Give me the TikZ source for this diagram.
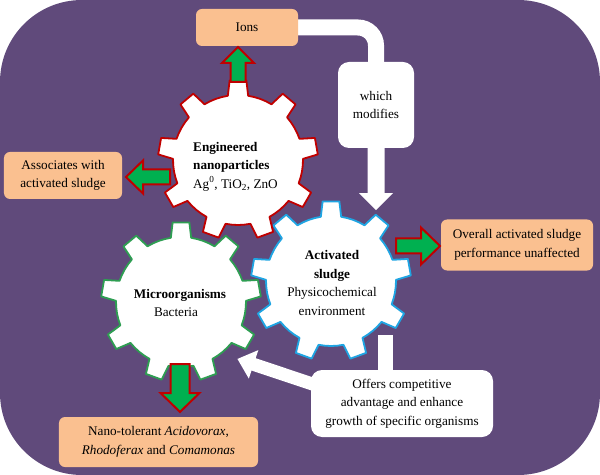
\documentclass[tikz,border=0pt]{standalone}
\usepackage{fontspec}
\setmainfont{Liberation Serif}
\usetikzlibrary{calc}
\definecolor{bgpurple}{HTML}{604A7B}
\definecolor{peach}{HTML}{FAC090}
\definecolor{arrgreen}{HTML}{00B050}
\definecolor{darkred}{HTML}{C00000}
\definecolor{gearblue}{HTML}{1FA5E3}
\definecolor{geargreen}{HTML}{2E9E52}
\pgfdeclarelayer{bg}
\pgfdeclarelayer{conn}
\pgfsetlayers{bg,conn,main}
\tikzset{
  every node/.style={font=\fontsize{13.2bp}{18.5bp}\selectfont},
  peachbox/.style={fill=peach, rounded corners=6bp, inner sep=0pt, align=center},
  whitebox/.style={fill=white, rounded corners=11bp, inner sep=0pt, align=center},
  band/.style={draw=white, line width=16bp},
  greenarr/.style={fill=arrgreen, draw=darkred, line width=2bp, line join=miter},
  whitearr/.style={fill=white},
  gearline/.style={fill=white, line width=1.8bp, line join=round},
  pics/blockarrow/.style n args={4}{code={
    \path[pic actions] (0,-#2) -- ({#1-#4},-#2) -- ({#1-#4},-#3) -- (#1,0) -- ({#1-#4},#3) -- ({#1-#4},#2) -- (0,#2) -- cycle;
  }},
  pics/gear/.style={code={
    \path[pic actions] (21:65) \foreach \a in {30,70,...,350}{ -- ({\a-9}:65) -- ({\a-6}:80) -- ({\a+6}:80) -- ({\a+9}:65) -- ({\a+14.5}:65) -- ({\a+20}:65) -- ({\a+25.5}:65) -- ({\a+31}:65)} -- cycle;
  }},
}
\begin{document}
\begin{tikzpicture}[x=1bp,y=-1bp]
\useasboundingbox (0,0) rectangle (600,475);
\begin{pgfonlayer}{bg}
\fill[white] (0,0) rectangle (600,475);
\fill[bgpurple, rounded corners=82bp] (0,0) rectangle (600,475);
\end{pgfonlayer}

% gears
\coordinate (redc) at (238,160);
\coordinate (bluec) at (331,281);
\coordinate (greenc) at (181,302);
\pic[gearline, draw=geargreen] at (greenc) {gear};
\pic[gearline, draw=gearblue] at (bluec) {gear};
\pic[gearline, draw=darkred] at (redc) {gear};

\node[anchor=west, align=left, inner sep=0pt] (engtext) at (193,166.5) {\textbf{Engineered}\\\textbf{nanoparticles}\\Ag\textsuperscript{0}, TiO\textsubscript{2}, ZnO};
\node[align=center, inner sep=0pt] (astext) at (332,283) {\textbf{Activated}\\\textbf{sludge}\\Physicochemical\\environment};
\node[align=center, inner sep=0pt] (mictext) at (180,303) {\textbf{Microorganisms}\\Bacteria\hspace*{8bp}};

% boxes
\node[peachbox, minimum width=102bp, minimum height=37bp] (ions) at (247,27.5) {Ions};
\node[peachbox, minimum width=118bp, minimum height=47bp] (assoc) at (63,175.5) {Associates with\\activated sludge};
\node[peachbox, minimum width=152bp, minimum height=51bp] (overall) at (517,245) {Overall activated sludge\\performance unaffected};
\node[peachbox, minimum width=199bp, minimum height=50bp] (nano) at (158.5,442) {Nano-tolerant \textit{Acidovorax},\\\textit{Rhodoferax} and \textit{Comamonas}};
\node[whitebox, minimum width=76bp, minimum height=86bp] (mod) at (376,105) {which\\modifies};
\node[whitebox, minimum width=182bp, minimum height=67bp] (offers) at (402,403.5) {Offers competitive\\advantage and enhance\\growth of specific organisms};

% white connectors
\begin{pgfonlayer}{conn}
\draw[band, rounded corners=18bp] (ions.east) -| (mod.north);
\pic[whitearr, rotate=-90] at (mod.south) {blockarrow={62}{8.5}{17}{17}};
\coordinate (stemtop) at (385.5,335);
\draw[white, line width=15bp] (stemtop) -- (stemtop |- offers.north);
\pic[whitearr, rotate=161.5] at ($(offers.west)+(12,-16)$) {blockarrow={90}{6.5}{15}{17}};
\end{pgfonlayer}

% green block arrows
\pic[greenarr, rotate=90] at ($(redc)+(0,-78)$) {blockarrow={35}{7.5}{16}{16}};
\pic[greenarr, rotate=180] at ($(redc)+(-68,17)$) {blockarrow={44}{7.5}{16.5}{17}};
\pic[greenarr, rotate=0] at ($(bluec)+(65,-35)$) {blockarrow={44}{7.5}{18.5}{19}};
\pic[greenarr, rotate=-90] at ($(greenc)+(-1,62)$) {blockarrow={48}{9.5}{19.5}{19}};
\end{tikzpicture}
\end{document}
